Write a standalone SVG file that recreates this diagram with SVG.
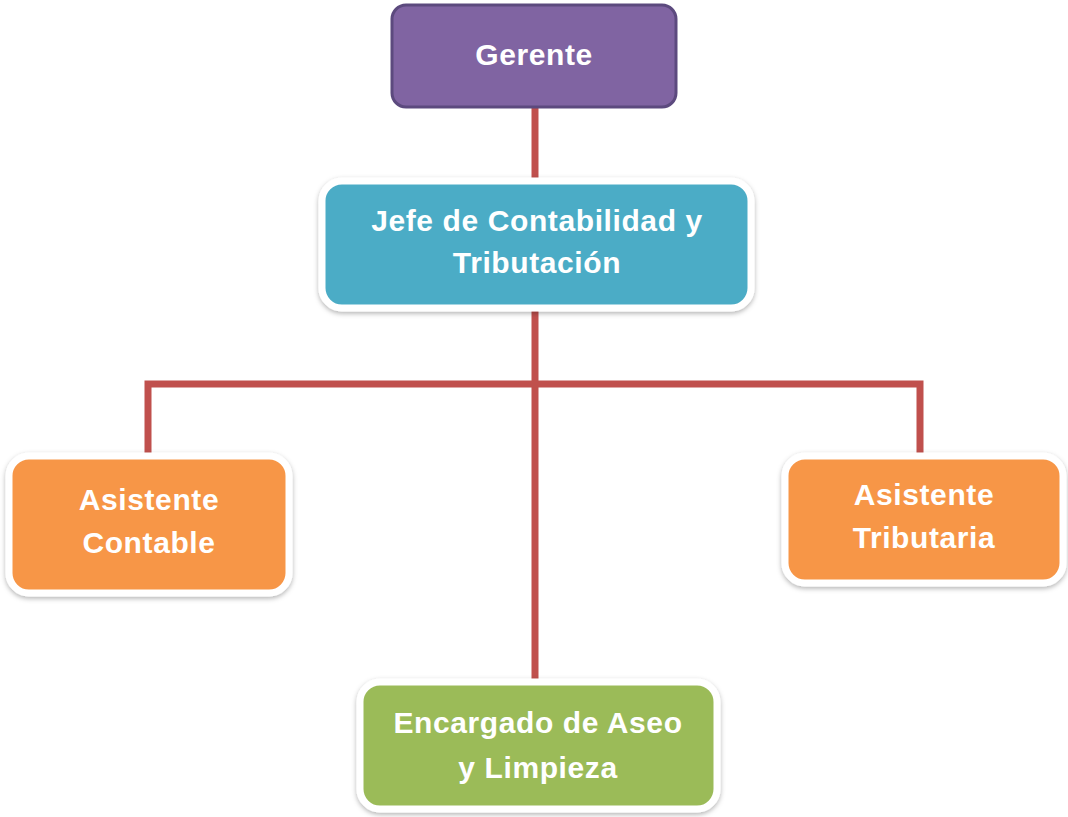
<svg xmlns="http://www.w3.org/2000/svg" width="1068" height="817" viewBox="0 0 1068 817">
<defs>
<filter id="sh" x="-10%" y="-10%" width="120%" height="130%">
<feDropShadow dx="0" dy="2" stdDeviation="2.5" flood-color="#000" flood-opacity="0.3"/>
</filter>
<style>
.t{font-family:"Liberation Sans",Arial,sans-serif;font-weight:bold;font-size:30px;fill:#fff;text-anchor:middle;letter-spacing:0.6px}
.box{stroke:#fff;stroke-width:7;filter:url(#sh)}
.con{fill:none;stroke:#c0504d;stroke-width:7;stroke-linecap:butt;stroke-linejoin:miter}
</style>
</defs>
<rect width="1068" height="817" fill="#fff"/>
<g id="connectors">
<path class="con" d="M535,108 V181"/>
<path class="con" d="M535,308 V682"/>
<path class="con" d="M148,455 V384 H920 V455"/>
</g>
<g id="gerente">
<rect x="392" y="5" width="284" height="102" rx="14" fill="#8064a2" stroke="#5c4a7e" stroke-width="3"/>
<text class="t" x="534" y="65">Gerente</text>
</g>
<g id="jefe">
<rect class="box" x="322" y="181" width="429" height="127" rx="20" fill="#4bacc6"/>
<text class="t" x="537" y="231">Jefe de Contabilidad y</text>
<text class="t" x="537" y="273">Tributación</text>
</g>
<g id="asistente-contable">
<rect class="box" x="9" y="456" width="280" height="137" rx="20" fill="#f79646"/>
<text class="t" x="149" y="510">Asistente</text>
<text class="t" x="149" y="553">Contable</text>
</g>
<g id="asistente-tributaria">
<rect class="box" x="785" y="456" width="278" height="127" rx="20" fill="#f79646"/>
<text class="t" x="924" y="505">Asistente</text>
<text class="t" x="924" y="548">Tributaria</text>
</g>
<g id="encargado">
<rect class="box" x="360" y="682" width="357" height="127" rx="20" fill="#9bbb59"/>
<text class="t" x="538" y="733">Encargado de Aseo</text>
<text class="t" x="538" y="778">y Limpieza</text>
</g>
</svg>
